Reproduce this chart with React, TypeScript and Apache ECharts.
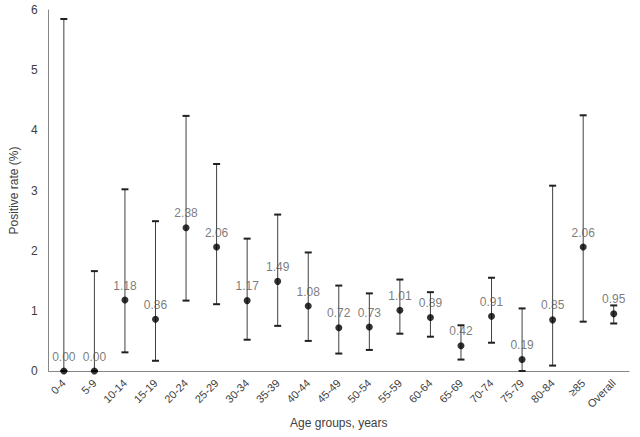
import React, { useEffect, useRef } from "react";
import * as echarts from "echarts";

const categories = ["0-4", "5-9", "10-14", "15-19", "20-24", "25-29", "30-34", "35-39", "40-44", "45-49", "50-54", "55-59", "60-64", "65-69", "70-74", "75-79", "80-84", "≥85", "Overall"];
const rates = [0.0, 0.0, 1.18, 0.86, 2.38, 2.06, 1.17, 1.49, 1.08, 0.72, 0.73, 1.01, 0.89, 0.42, 0.91, 0.19, 0.85, 2.06, 0.95];
const lowerCI = [0.0, 0.0, 0.31, 0.17, 1.17, 1.11, 0.52, 0.75, 0.5, 0.29, 0.35, 0.62, 0.57, 0.19, 0.47, 0.0, 0.09, 0.82, 0.79];
const upperCI = [5.85, 1.66, 3.02, 2.49, 4.24, 3.44, 2.2, 2.6, 1.97, 1.42, 1.29, 1.52, 1.31, 0.76, 1.55, 1.04, 3.08, 4.25, 1.09];
const yTicks = [0, 1, 2, 3, 4, 5, 6];

const FONT = "'Liberation Sans', Arial, sans-serif";

export default function App() {
  const ref = useRef<HTMLDivElement>(null);
  useEffect(() => {
    if (!ref.current) return;
    const chart = echarts.init(ref.current, null, { renderer: "svg" });
    const errData = categories.map((_, i) => [i, lowerCI[i], upperCI[i]]);
    chart.setOption({
      animation: false,
      textStyle: { fontFamily: FONT },
      grid: { left: 41, right: 11, top: 10, bottom: 66, containLabel: false },
      xAxis: {
        type: "category",
        data: categories,
        boundaryGap: true,
        name: "Age groups, years",
        nameLocation: "middle",
        nameGap: 45,
        nameTextStyle: { color: "#404040", fontSize: 12, fontFamily: FONT },
        axisLine: { lineStyle: { color: "#868686", width: 1 } },
        axisTick: { show: false },
        axisLabel: { rotate: 45, color: "#404040", fontSize: 11, fontFamily: FONT, interval: 0, margin: 10 },
      },
      yAxis: {
        type: "value",
        min: yTicks[0],
        max: yTicks[yTicks.length - 1],
        interval: 1,
        name: "Positive rate (%)",
        nameLocation: "middle",
        nameGap: 22,
        nameTextStyle: { color: "#404040", fontSize: 12, fontFamily: FONT },
        axisLine: { show: true, lineStyle: { color: "#868686", width: 1 } },
        axisTick: { show: false },
        splitLine: { show: false },
        axisLabel: { color: "#404040", fontSize: 12, fontFamily: FONT, margin: 11 },
      },
      series: [
        {
          type: "custom",
          data: errData,
          z: 1,
          renderItem: (params: any, api: any) => {
            const x = api.value(0);
            const lo = api.coord([x, api.value(1)]);
            const hi = api.coord([x, api.value(2)]);
            const hw = 3.5;
            const stroke = { stroke: "#404040", lineWidth: 1 };
            const cap = { stroke: "#202020", lineWidth: 2 };
            return {
              type: "group",
              children: [
                { type: "line", shape: { x1: lo[0], y1: lo[1], x2: hi[0], y2: hi[1] }, style: stroke },
                { type: "line", shape: { x1: hi[0] - hw, y1: hi[1], x2: hi[0] + hw, y2: hi[1] }, style: cap },
                { type: "line", shape: { x1: lo[0] - hw, y1: lo[1], x2: lo[0] + hw, y2: lo[1] }, style: cap },
              ],
            };
          },
        },
        {
          type: "scatter",
          data: rates,
          z: 2,
          symbol: "circle",
          symbolSize: 7,
          itemStyle: { color: "#000000" },
          label: {
            show: true,
            position: "top",
            distance: 5,
            color: "#595959",
            fontSize: 12,
            fontFamily: FONT,
            formatter: (p: any) => Number(p.value).toFixed(2),
          },
        },
      ],
    });
    return () => chart.dispose();
  }, []);
  return <div ref={ref} style={{ position: "fixed", left: 0, top: 0, width: 640, height: 437, background: "#ffffff" }} />;
}
